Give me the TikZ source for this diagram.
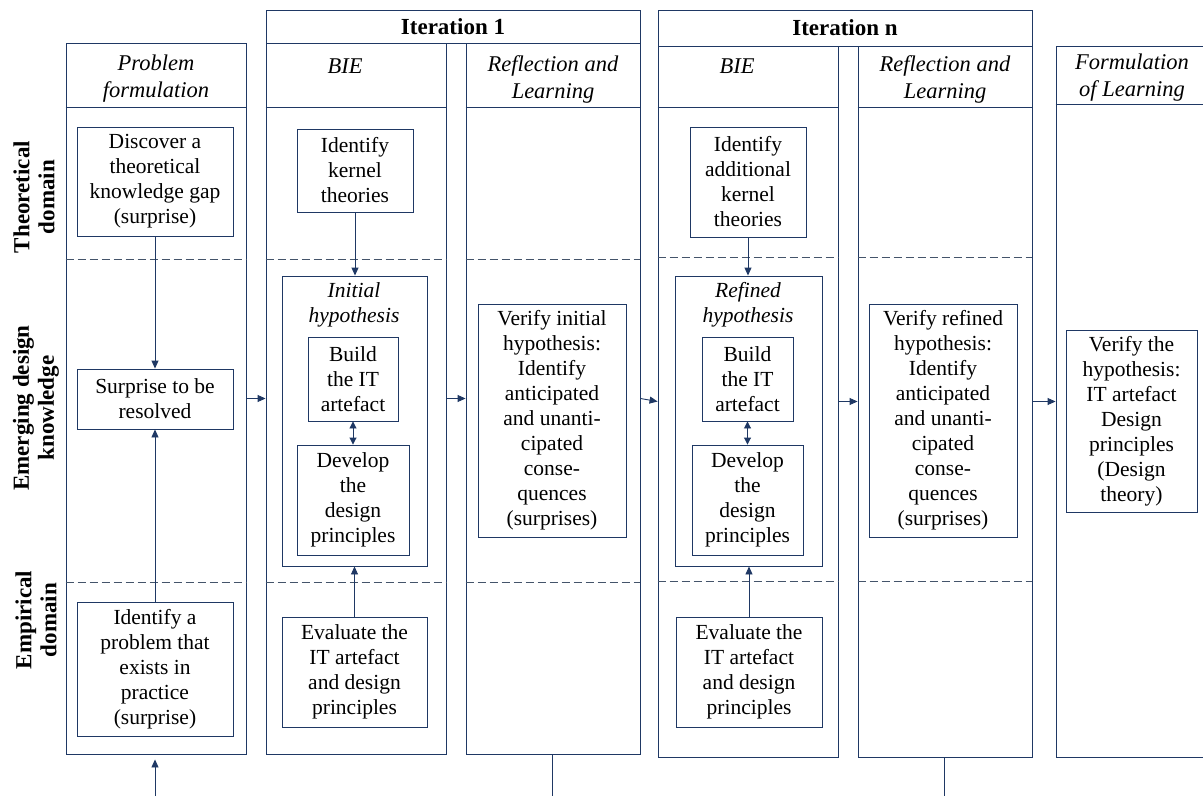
\documentclass[tikz,border=0pt]{standalone}
\usepackage{fontspec}
\setmainfont{Liberation Serif}
\usetikzlibrary{arrows.meta,calc}
\definecolor{navy}{RGB}{31,56,100}
\definecolor{dashc}{RGB}{68,84,106}
\newcommand\myBody{\fontsize{21.5}{25}\selectfont}
\newcommand\myHead{\fontsize{22.5}{27}\selectfont\itshape}
\newcommand\myBold{\fontsize{23}{23}\selectfont\bfseries}
\newcommand\myLab{\fontsize{23}{25}\selectfont\bfseries}
\begin{document}
\begin{tikzpicture}[x=1pt,y=-1pt,
  ln/.style={draw=navy,line width=0.9pt},
  col/.style={ln,inner sep=0pt,minimum width=#1,minimum height=711},
  bx/.style={ln,fill=white,inner sep=0pt,align=center,font=\myBody,text=black},
  hdr/.style={inner sep=0pt,align=center,font=\myHead},
  lab/.style={inner sep=0pt,align=center,font=\myLab,rotate=90},
  arr/.style={navy,line width=0.9pt,-{Triangle[length=8pt,width=7pt]}},
  arrb/.style={navy,line width=0.9pt,{Triangle[length=7pt,width=7pt]}-{Triangle[length=7pt,width=7pt]}},
  dline/.style={draw=dashc,line width=0.9pt,dash pattern=on 8pt off 4pt}
]
\useasboundingbox (0,0) rectangle (1203,796);

% iteration header boxes
\node[ln,inner sep=0pt,minimum width=374,minimum height=33,font=\myBold] (it1) at (453,26.5) {Iteration 1};
\node[ln,inner sep=0pt,minimum width=374,minimum height=36,font=\myBold] (itn) at (845,28) {Iteration n};

% columns
\node[col=180] (c1) at (156,398.5) {};
\node[col=180] (c2) at (356,398.5) {};
\node[col=174] (c3) at (553,398.5) {};
\node[col=180] (c4) at (748,401.5) {};
\node[col=174] (c5) at (945,401.5) {};
\node[col=160] (c6) at (1136,401.5) {};

% header separators
\coordinate (hs) at (0,107);
\coordinate (hs6) at (0,104);
\foreach \c in {c1,c2,c3,c4,c5}{\draw[ln] (\c.west |- hs) -- (\c.east |- hs);}
\draw[ln] (c6.west |- hs6) -- (c6.east |- hs6);

% dashed domain separators
\coordinate (da) at (0,259);
\coordinate (db) at (0,582);
\coordinate (dc) at (0,257);
\coordinate (dd) at (0,581);
\foreach \c in {c1,c2,c3}{\draw[dline] (\c.west |- da) -- (\c.east |- da); \draw[dline] (\c.west |- db) -- (\c.east |- db);}
\foreach \c in {c4,c5}{\draw[dline] (\c.west |- dc) -- (\c.east |- dc); \draw[dline] (\c.west |- dd) -- (\c.east |- dd);}

% column headers
\node[hdr] (h1) at (156,79) {Problem\\formulation};
\node[hdr] (h2) at (345,66) {BIE};
\node[hdr] (h3) at (553,79) {Reflection and\\Learning};
\node[hdr] (h4) at (737,66) {BIE};
\node[hdr] (h5) at (945,79) {Reflection and\\Learning};
\node[hdr] (h6) at (1132,78) {Formulation\\of Learning};

% row labels
\node[lab] (l1) at (34,197) {Theoretical\\domain};
\node[lab] (l2) at (36,408) {Emerging design\\knowledge};
\node[lab] (l3) at (36,620) {Empirical\\domain};

% problem formulation boxes
\node[bx,minimum width=156,minimum height=109] (disc) at (155,181.5) {Discover a\\theoretical\\knowledge gap\\(surprise)};
\node[bx,minimum width=156,minimum height=60] (sur) at (155,399) {Surprise to be\\resolved};
\node[bx,minimum width=156,minimum height=134] (prob) at (155,669) {Identify a\\problem that\\exists in\\practice\\(surprise)};

% iteration 1
\node[bx,minimum width=116,minimum height=83] (kern1) at (355,170.5) {Identify\\kernel\\theories};
\node[bx,minimum width=145,minimum height=290] (hyp1) at (354.5,421) {};
\node[hdr,font=\myBody\itshape] (hl1) at (354,304.5) {Initial\\hypothesis};
\node[bx,minimum width=90,minimum height=84] (build1) at (353,379) {Build\\the IT\\artefact};
\node[bx,minimum width=112,minimum height=110] (dev1) at (353,500) {Develop\\the\\design\\principles};
\node[bx,minimum width=145,minimum height=110] (eval1) at (354.5,672) {Evaluate the\\IT artefact\\and design\\principles};
\node[bx,minimum width=148,minimum height=233] (ver1) at (552,420.5) {Verify initial\\hypothesis:\\Identify\\anticipated\\and unanti-\\cipated\\conse-\\quences\\(surprises)};

% iteration n
\node[bx,minimum width=116,minimum height=110] (kern2) at (748,182) {Identify\\additional\\kernel\\theories};
\node[bx,minimum width=147,minimum height=290] (hyp2) at (748.5,421) {};
\node[hdr,font=\myBody\itshape] (hl2) at (748,304.5) {Refined\\hypothesis};
\node[bx,minimum width=91,minimum height=84] (build2) at (747.5,379) {Build\\the IT\\artefact};
\node[bx,minimum width=111,minimum height=110] (dev2) at (747.5,500) {Develop\\the\\design\\principles};
\node[bx,minimum width=146,minimum height=110] (eval2) at (749,672) {Evaluate the\\IT artefact\\and design\\principles};
\node[bx,minimum width=148,minimum height=233] (ver2) at (943,420.5) {Verify refined\\hypothesis:\\Identify\\anticipated\\and unanti-\\cipated\\conse-\\quences\\(surprises)};

% formulation of learning
\node[bx,minimum width=131,minimum height=182] (ver3) at (1131.5,421) {Verify the\\hypothesis:\\IT artefact\\Design\\principles\\(Design\\theory)};

% connectors
\draw[arr] (disc.south) -- (sur.north);
\draw[arr] (prob.north) -- (sur.south);
\draw[arr] (kern1.south) -- (kern1.south |- hyp1.north);
\draw[arr] (eval1.north) -- (eval1.north |- hyp1.south);
\draw[arrb] (build1.south) -- (build1.south |- dev1.north);
\draw[arr] (kern2.south) -- (kern2.south |- hyp2.north);
\draw[arr] (eval2.north) -- (eval2.north |- hyp2.south);
\draw[arrb] (build2.south) -- (build2.south |- dev2.north);

\draw[arr] (c1.east) -- (c2.west);
\draw[arr] (c2.east) -- (c3.west);
\draw[arr] (c3.east) -- (c4.west);
\draw[arr] (c4.east) -- (c5.west);
\draw[arr] (c5.east) -- (c5.east -| c6.west);

\coordinate (inp) at (155,796);
\draw[arr,shorten >=5pt] (inp) -- (inp |- c1.south);
\coordinate (o1) at (552,796);
\draw[ln] (o1 |- c3.south) -- (o1);
\coordinate (o2) at (944,796);
\draw[ln] (o2 |- c5.south) -- (o2);
\end{tikzpicture}
\end{document}
